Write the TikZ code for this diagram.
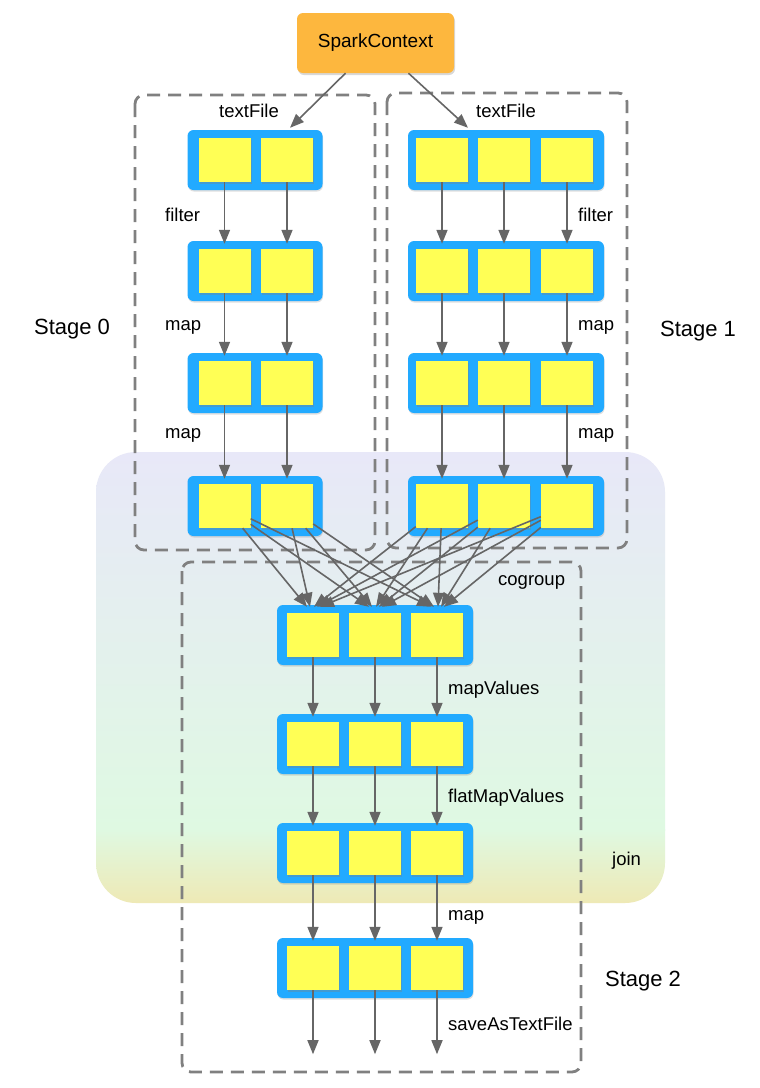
\documentclass[tikz,border=0pt]{standalone}
\usepackage{fontspec}
\setmainfont{Liberation Sans}
\usetikzlibrary{arrows.meta,shadows,calc}
\definecolor{rddblue}{HTML}{22AAFF}
\definecolor{partyellow}{HTML}{FFFF55}
\definecolor{scorange}{HTML}{FDB73E}
\definecolor{arrgray}{HTML}{666666}
\definecolor{dashgray}{HTML}{808080}
\definecolor{bglav}{HTML}{E8E8F8}
\definecolor{bggreen}{HTML}{DFF9E2}
\definecolor{bgyellow}{HTML}{EEE9B5}
\begin{document}
\begin{tikzpicture}[x=1pt,y=-1pt,
 rdd/.style={fill=rddblue, rounded corners=6pt, minimum height=60pt, inner sep=0pt,
   drop shadow={shadow xshift=0.5pt,shadow yshift=-1.5pt,opacity=0.25}},
 rddtwo/.style={rdd, minimum width=135pt},
 rddthree/.style={rdd, minimum width=196pt},
 part/.style={fill=partyellow, minimum width=52pt, minimum height=44pt, inner sep=0pt,
   drop shadow={shadow xshift=1pt,shadow yshift=-1.5pt,opacity=0.35}},
 arr/.style={draw=arrgray, fill=arrgray, line width=1.6pt, -{Triangle[length=14pt,width=11pt]}},
 stagebox/.style={draw=dashgray, line width=2.8pt, dash pattern=on 13pt off 8pt, rounded corners=9pt},
 lbl/.style={font=\fontsize{18.5}{22}\selectfont, inner sep=0pt},
 stagelbl/.style={font=\fontsize{22}{26}\selectfont, inner sep=0pt},
 scbox/.style={fill=scorange, rounded corners=6pt, minimum width=157pt, minimum height=60pt,
   inner sep=0pt, font=\fontsize{19}{22}\selectfont,
   drop shadow={shadow xshift=1pt,shadow yshift=-2pt,opacity=0.3}},
]
\useasboundingbox (0,0) rectangle (760,1088);
\fill[white] (0,0) rectangle (760,1088);

% gradient background (join region)
\begin{scope}
\clip[rounded corners=40pt] (96,452) rectangle (665,903);
\shade[top color=bglav, bottom color=bggreen] (96,452) rectangle (665,830);
\shade[top color=bggreen, bottom color=bgyellow] (96,829) rectangle (665,903);
\end{scope}

% stage boxes
\draw[stagebox] (135,95) rectangle (375,550);
\draw[stagebox] (387,93) rectangle (627,548);
\draw[stagebox] (182,562) rectangle (581,1072);

% SparkContext
\node[scbox] (sc) at (375.5,43) {SparkContext};

% RDDs of stages 0 and 1
\foreach \r/\y in {1/160,2/271,3/383,4/506} {
  \node[rddtwo] (L\r) at (255,\y) {};
  \node[part] (L\r-a) at (224.5,\y) {};
  \node[part] (L\r-b) at (287,\y) {};
  \node[rddthree] (R\r) at (506,\y) {};
  \node[part] (R\r-a) at (442,\y) {};
  \node[part] (R\r-b) at (504,\y) {};
  \node[part] (R\r-c) at (567,\y) {};
}
% RDDs of stage 2
\foreach \r/\y in {1/635,2/744,3/853,4/968} {
  \node[rddthree] (C\r) at (375,\y) {};
  \node[part] (C\r-a) at (313,\y) {};
  \node[part] (C\r-b) at (375,\y) {};
  \node[part] (C\r-c) at (437,\y) {};
}

% SparkContext arrows
\draw[arr] ($(sc.south)+(-30pt,0)$) -- ($(L1.north)+(35pt,2pt)$);
\draw[arr] ($(sc.south)+(33pt,0)$) -- ($(R1.north)+(-38pt,2pt)$);

% narrow dependencies in stages 0 and 1
\foreach \r/\n in {1/2,2/3,3/4} {
  \foreach \p in {a,b}
    \draw[arr] (L\r-\p.south) -- ($(L\n-\p.north |- L\n.north)+(0,-3pt)$);
  \foreach \p in {a,b,c}
    \draw[arr] (R\r-\p.south) -- ($(R\n-\p.north |- R\n.north)+(0,-3pt)$);
}

% cogroup (wide dependencies)
\foreach \s/\dx in {L4-a/-6,L4-b/-3,R4-a/1,R4-b/4,R4-c/7}
  \foreach \t in {a,b,c}
    \draw[arr] (\s) -- ($(C1-\t.north |- C1.north)+(\dx pt,-2pt)$);

% stage 2 narrow dependencies
\foreach \r/\n in {1/2,2/3,3/4}
  \foreach \p in {a,b,c}
    \draw[arr] (C\r-\p.south) -- ($(C\n-\p.north |- C\n.north)+(0,-3pt)$);

% output arrows
\foreach \p in {a,b,c} {
  \coordinate (out-\p) at ($(C4-\p.south)+(0,-64pt)$);
  \draw[arr] (C4-\p.south) -- (out-\p);
}

% labels
\node[lbl] (tf0) at (249,111) {textFile};
\node[lbl] (tf1) at (506,111) {textFile};
\node[lbl, anchor=west] (fl0) at (165,215) {filter};
\node[lbl, anchor=west] (fl1) at (578,215) {filter};
\node[lbl, anchor=west] (ma0) at (165,327) {map};
\node[lbl, anchor=west] (ma1) at (578,327) {map};
\node[lbl, anchor=west] (mb0) at (165,435) {map};
\node[lbl, anchor=west] (mb1) at (578,435) {map};
\node[stagelbl] (s0) at (72,329) {Stage 0};
\node[stagelbl] (s1) at (698,331) {Stage 1};
\node[lbl, anchor=west] (cg) at (498,582) {cogroup};
\node[lbl, anchor=west] (mv) at (448,690) {mapValues};
\node[lbl, anchor=west] (fmv) at (448,798) {flatMapValues};
\node[lbl, anchor=west] (jn) at (612,861) {join};
\node[lbl, anchor=west] (mc) at (448,917) {map};
\node[stagelbl] (s2) at (643,981) {Stage 2};
\node[lbl, anchor=west] (sv) at (448,1024) {saveAsTextFile};
\end{tikzpicture}
\end{document}
